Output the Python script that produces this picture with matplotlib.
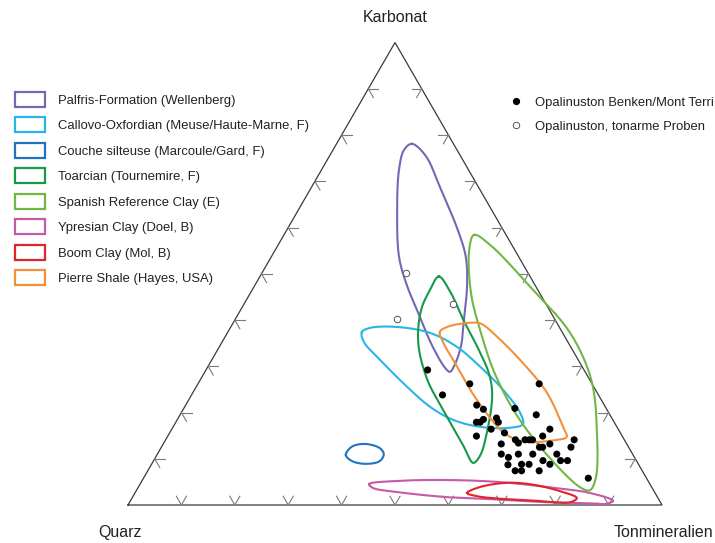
import numpy as np
import matplotlib
matplotlib.use("Agg")
import matplotlib.pyplot as plt
from matplotlib.patches import Patch
from matplotlib.lines import Line2D

plt.rcParams['font.family'] = ['Liberation Sans', 'DejaVu Sans']

# ---------------- labels ----------------
label_top = "Karbonat"
label_left = "Quarz"
label_right = "Tonmineralien"
tick_values = [10, 20, 30, 40, 50, 60, 70, 80, 90]

# ---------------- point data (Tonmineralien %, Karbonat %) ----------------
opa_name = "Opalinuston Benken/Mont Terri"
opa_ton = [41.5, 50.9, 63.9, 47.0, 54.5, 56.2, 62.0, 66.7, 56.3, 57.0, 57.3, 59.6,
           60.4, 59.8, 62.7, 70.8, 57.8, 65.5, 66.4, 67.3, 68.1, 68.7, 70.2, 76.5,
           63.3, 70.8, 71.4, 72.4, 76.7, 64.4, 66.1, 67.6, 70.3, 74.8, 66.8, 69.3,
           70.7, 72.9, 74.6, 76.2, 77.5, 68.8, 70.0, 73.3, 83.3]
opa_karb = [29.2, 26.2, 26.2, 23.8, 21.6, 20.7, 20.9, 19.5, 17.9, 17.9, 18.5, 18.8,
            17.9, 16.4, 15.6, 16.4, 14.9, 14.1, 13.4, 14.1, 14.1, 14.1, 14.9, 14.1,
            13.2, 12.5, 12.5, 13.2, 12.5, 11.0, 10.3, 11.0, 11.0, 11.0, 8.7, 8.8,
            8.8, 9.6, 8.8, 9.6, 9.6, 7.4, 7.4, 7.4, 5.8]

poor_name = "Opalinuston, tonarme Proben"
poor_ton = [27.0, 39.1, 30.2]
poor_karb = [50.2, 43.4, 40.3]

# ---------------- field outlines (Tonmineralien %, Karbonat %) ----------------
field_names = [
    "Palfris-Formation (Wellenberg)",
    "Callovo-Oxfordian (Meuse/Haute-Marne, F)",
    "Couche silteuse (Marcoule/Gard, F)",
    "Toarcian (Tournemire, F)",
    "Spanish Reference Clay (E)",
    "Ypresian Clay (Doel, B)",
    "Boom Clay (Mol, B)",
    "Pierre Shale (Hayes, USA)",
]
field_colors = ["#7468b4", "#2bb5e6", "#1f74bd", "#17994a",
                "#72b645", "#c65aa8", "#e1232b", "#f3913a"]

palfris_ton = [14.1, 18.0, 24.0, 32.0, 36.4, 39.7, 42.9, 45.1, 46.0, 45.9, 44.5,
               39.6, 34.3, 28.4, 23.9, 18.8, 14.5, 13.3]
palfris_karb = [78.1, 75.5, 68.8, 59.5, 53.7, 47.6, 40.0, 34.6, 30.5, 28.8, 29.7,
                34.6, 40.7, 47.6, 53.7, 63.2, 72.5, 76.8]

callovo_ton = [25.1, 26.2, 31.1, 38.0, 44.5, 51.0, 57.8, 63.5, 65.2, 63.2, 57.5,
               51.7, 46.0, 38.3, 31.5, 26.5]
callovo_karb = [37.4, 38.3, 38.5, 37.2, 34.2, 29.9, 24.9, 19.9, 17.5, 16.7, 16.9,
                18.4, 21.2, 26.4, 31.4, 35.3]

couche_ton = [35.4, 35.6, 37.8, 41.0, 42.4, 42.4, 40.1, 37.2]
couche_karb = [10.8, 12.6, 13.2, 12.3, 11.0, 9.5, 8.9, 9.5]

toarcian_ton = [33.5, 37.3, 43.0, 48.5, 53.4, 56.3, 59.4, 60.6, 60.1, 56.6, 48.7,
                42.5, 36.8, 33.8, 33.3]
toarcian_karb = [49.4, 46.1, 39.8, 34.0, 28.4, 23.8, 15.6, 10.6, 9.1, 12.6, 20.6,
                 27.1, 35.1, 42.2, 46.5]

spanish_ton = [35.6, 39.6, 51.7, 64.2, 73.2, 79.7, 84.7, 84.9, 83.0, 73.6, 63.0,
               54.5, 47.5, 41.4, 36.3]
spanish_karb = [58.4, 56.3, 47.2, 37.2, 27.1, 16.2, 5.8, 3.2, 3.7, 10.4, 19.5,
                28.4, 37.2, 45.7, 55.2]

ypresian_ton = [42.9, 47.8, 57.0, 66.6, 76.5, 85.2, 90.4, 89.2, 87.7, 78.2, 68.5,
                58.9, 49.0, 44.0]
ypresian_karb = [4.5, 5.2, 5.4, 5.0, 3.9, 2.6, 0.9, 0.2, 0.3, 0.6, 1.2, 1.7, 2.8, 3.7]

boom_ton = [62.2, 64.0, 68.6, 73.0, 78.7, 83.3, 82.5, 76.2, 69.6, 64.4]
boom_karb = [2.6, 3.9, 4.8, 4.5, 3.2, 1.5, 0.6, 0.9, 1.3, 1.9]

pierre_ton = [39.7, 40.5, 44.3, 46.5, 50.9, 58.6, 66.4, 73.0, 74.8, 73.3, 68.5,
              65.8, 62.3, 54.0, 46.7, 41.5]
pierre_karb = [37.4, 38.5, 39.4, 39.2, 36.4, 30.7, 24.2, 16.9, 14.7, 14.1, 13.6,
               14.1, 15.8, 22.7, 29.9, 35.1]

fields_ton = [palfris_ton, callovo_ton, couche_ton, toarcian_ton,
              spanish_ton, ypresian_ton, boom_ton, pierre_ton]
fields_karb = [palfris_karb, callovo_karb, couche_karb, toarcian_karb,
               spanish_karb, ypresian_karb, boom_karb, pierre_karb]

SQ3 = np.sqrt(3) / 2


def tern(ton, karb):
    ton = np.asarray(ton, float)
    karb = np.asarray(karb, float)
    return ton + karb / 2.0, karb * SQ3


def closed_smooth(x, y, n=40):
    P = np.column_stack([x, y])
    N = len(P)
    segs = []
    for i in range(N):
        p0, p1, p2, p3 = P[(i - 1) % N], P[i], P[(i + 1) % N], P[(i + 2) % N]
        def tj(ti, a, b):
            return ti + np.linalg.norm(b - a) ** 0.5
        t0 = 0.0
        t1 = tj(t0, p0, p1)
        t2 = tj(t1, p1, p2)
        t3 = tj(t2, p2, p3)
        t = np.linspace(t1, t2, n, endpoint=False)[:, None]
        A1 = (t1 - t) / (t1 - t0) * p0 + (t - t0) / (t1 - t0) * p1
        A2 = (t2 - t) / (t2 - t1) * p1 + (t - t1) / (t2 - t1) * p2
        A3 = (t3 - t) / (t3 - t2) * p2 + (t - t2) / (t3 - t2) * p3
        B1 = (t2 - t) / (t2 - t0) * A1 + (t - t0) / (t2 - t0) * A2
        B2 = (t3 - t) / (t3 - t1) * A2 + (t - t1) / (t3 - t1) * A3
        C = (t2 - t) / (t2 - t1) * B1 + (t - t1) / (t2 - t1) * B2
        segs.append(C)
    out = np.vstack(segs + [segs[0][:1]])
    return out[:, 0], out[:, 1]


W, H = 715, 543
fig = plt.figure(figsize=(W / 100, H / 100), dpi=100)
ax = fig.add_axes([0, 0, 1, 1])
S = 5.34  # pixels per percent
ax.set_xlim(-128 / S, (W - 128) / S)
ax.set_ylim(-(H - 505) / S, 505 / S)
ax.axis("off")

# triangle
edge_color = "#3a3a3a"
tx, ty = tern([0, 100, 0, 0], [0, 0, 100, 0])
ax.plot(tx, ty, color=edge_color, lw=0.9, zorder=2, solid_joinstyle="miter")

# ticks (small arrow-like marks)
tick_color = "#7a7a7a"
L = 1.9
for v in tick_values:
    # left edge (Karbonat = v, Ton = 0)
    px, py = tern(0, v)
    for d in [(1, 0), (0.5, -SQ3)]:
        ax.plot([px, px + L * d[0]], [py, py + L * d[1]], color=tick_color, lw=0.8, zorder=2)
    # bottom edge (Ton = v, Karbonat = 0)
    px, py = tern(v, 0)
    for d in [(0.5, SQ3), (-0.5, SQ3)]:
        ax.plot([px, px + L * d[0]], [py, py + L * d[1]], color=tick_color, lw=0.8, zorder=2)
    # right edge (Karbonat = v, Ton = 100 - v)
    px, py = tern(100 - v, v)
    for d in [(-1, 0), (-0.5, -SQ3)]:
        ax.plot([px, px + L * d[0]], [py, py + L * d[1]], color=tick_color, lw=0.8, zorder=2)

# corner labels
lab_fs = 11.5
kx, ky = tern(0, 100)
ax.text(kx, ky + 4.7, label_top, ha="center", va="center", fontsize=lab_fs, color="#222222")
qx, qy = tern(0, 0)
ax.text(qx - 1.5, qy - 5.2, label_left, ha="center", va="center", fontsize=lab_fs, color="#222222")
rx, ry = tern(100, 0)
ax.text(rx + 0.3, ry - 5.2, label_right, ha="center", va="center", fontsize=lab_fs, color="#222222")

# field outlines
for tn, kb, col in zip(fields_ton, fields_karb, field_colors):
    x, y = tern(tn, kb)
    sx, sy = closed_smooth(x, y)
    ax.plot(sx, sy, color=col, lw=1.5, zorder=3)

# points
ox, oy = tern(opa_ton, opa_karb)
ax.scatter(ox, oy, s=26, color="black", edgecolors="none", zorder=5)
px_, py_ = tern(poor_ton, poor_karb)
ax.scatter(px_, py_, s=22, facecolors="white", edgecolors="#555555", linewidths=0.7, zorder=5)

# legends
leg_fs = 9.4
handles = [Patch(facecolor="white", edgecolor=c, linewidth=1.6) for c in field_colors]
leg1 = fig.legend(handles, field_names, loc="upper left",
                  bbox_to_anchor=(15.5 / W, 1 - 91.8 / H), frameon=False,
                  fontsize=leg_fs, handlelength=2.24, handleheight=1.39,
                  handletextpad=1.0, labelspacing=0.805, borderpad=0, borderaxespad=0)
for t in leg1.get_texts():
    t.set_color("#222222")

h2 = [Line2D([], [], ls="none", marker="o", markersize=4.2, markerfacecolor="black",
             markeredgecolor="black"),
      Line2D([], [], ls="none", marker="o", markersize=4.6, markerfacecolor="white",
             markeredgecolor="#555555", markeredgewidth=0.7)]
leg2 = fig.legend(h2, [opa_name, poor_name], loc="upper left",
                  bbox_to_anchor=(509 / W, 1 - 96.5 / H), frameon=False,
                  fontsize=leg_fs, handlelength=1.0, handletextpad=0.96,
                  labelspacing=0.9, borderpad=0, borderaxespad=0)
for t in leg2.get_texts():
    t.set_color("#222222")

fig.savefig("out.png", dpi=100, facecolor="white")
